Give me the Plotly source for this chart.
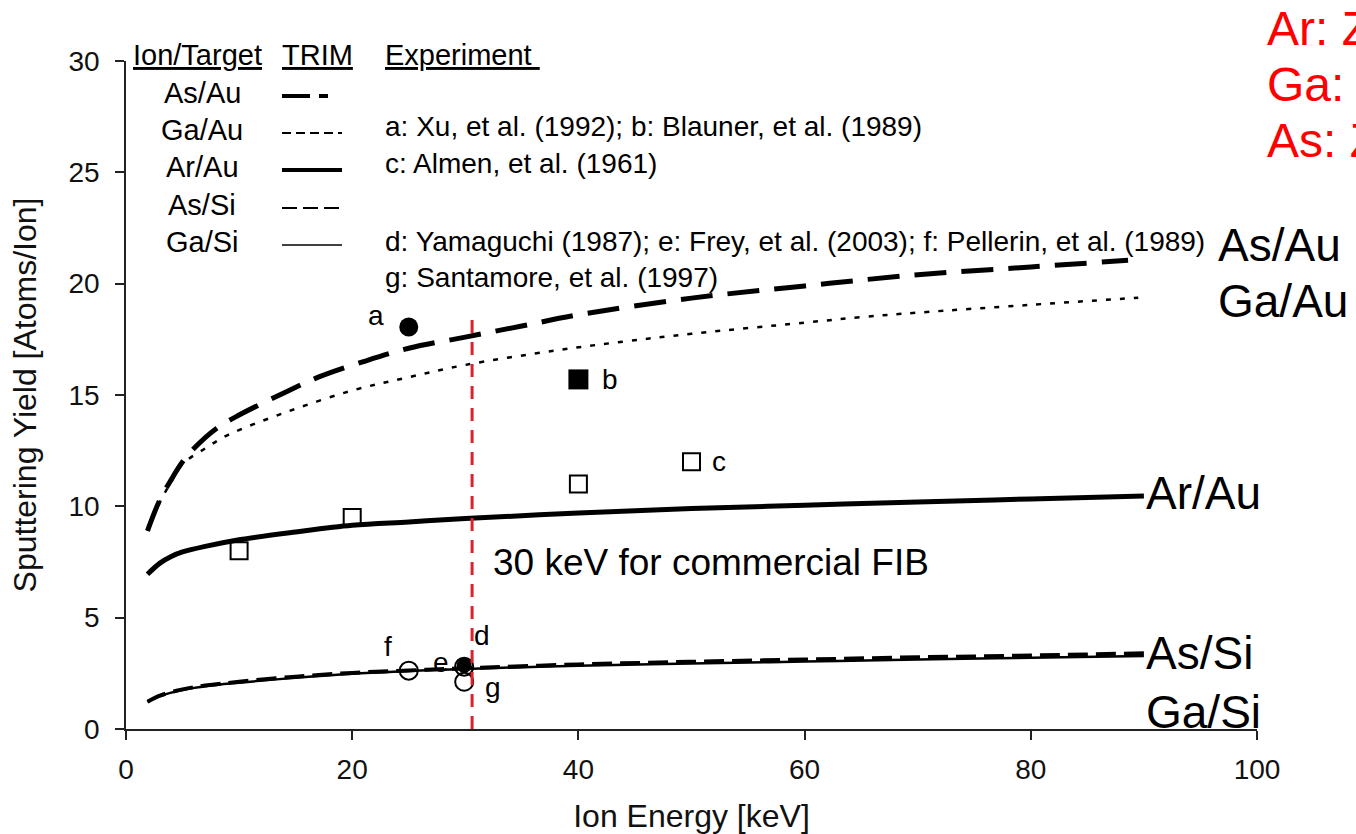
import plotly.graph_objects as go

# ---------------- data ----------------
energy_as_au = [1.9, 3, 4, 5, 6, 8, 10, 14, 17, 21, 25, 30, 35, 40, 50, 60, 70, 80, 88.6]
yield_as_au = [8.9, 10.3, 11.2, 12.0, 12.6, 13.5, 14.1, 15.1, 15.8, 16.5, 17.1, 17.6, 18.1, 18.6, 19.35, 19.9, 20.4, 20.75, 21.05]

energy_ga_au = [1.9, 3, 4, 5, 7, 9, 14, 20, 25, 30, 38, 44, 50, 60, 65, 70, 80, 89.5]
yield_ga_au = [8.9, 10.2, 11.1, 11.9, 12.6, 13.2, 14.2, 15.2, 15.8, 16.35, 17.0, 17.4, 17.75, 18.25, 18.5, 18.7, 19.05, 19.37]

energy_ar_au = [1.9, 3, 4, 5, 7, 10, 15, 20, 25, 30, 40, 50, 60, 70, 80, 90]
yield_ar_au = [6.95, 7.45, 7.75, 7.95, 8.2, 8.5, 8.85, 9.15, 9.3, 9.45, 9.7, 9.9, 10.05, 10.2, 10.33, 10.46]

energy_si = [1.9, 3, 5, 7, 10, 15, 20, 25, 30, 40, 50, 60, 70, 80, 90]
yield_as_si = [1.22, 1.5, 1.78, 1.95, 2.12, 2.35, 2.52, 2.63, 2.73, 2.9, 3.02, 3.12, 3.22, 3.3, 3.4]
yield_ga_si = [1.22, 1.48, 1.75, 1.92, 2.08, 2.3, 2.48, 2.6, 2.7, 2.84, 2.94, 3.03, 3.12, 3.2, 3.28]

exp_a_x, exp_a_y = [25], [18.05]
exp_b_x, exp_b_y = [40], [15.7]
exp_c_x, exp_c_y = [10, 20, 40, 50], [8.0, 9.5, 11.0, 12.0]
exp_d_x, exp_d_y = [29.9], [2.85]
exp_e_x, exp_e_y = [29.9], [2.8]
exp_f_x, exp_f_y = [25], [2.62]
exp_g_x, exp_g_y = [29.9], [2.12]

fib_energy = 30.6
fib_line_top = 18.4

x_ticks = [0, 20, 40, 60, 80, 100]
y_ticks = [0, 5, 10, 15, 20, 25, 30]

legend_names = ["As/Au", "Ga/Au", "Ar/Au", "As/Si", "Ga/Si"]
references = [
    "a: Xu, et al. (1992); b: Blauner, et al. (1989)",
    "c: Almen, et al. (1961)",
    "d: Yamaguchi (1987); e: Frey, et al. (2003); f: Pellerin, et al. (1989)",
    "g: Santamore, et al. (1997)",
]
red_notes = ["Ar: Z=18", "Ga: Z=31", "As: Z=33"]

# ---------------- layout geometry ----------------
W, H = 1356, 834
ML, MR, MT, MB = 126, 99, 61, 105
XMAX, YMAX = 100, 30
FONT = "Liberation Sans, Arial, Helvetica, sans-serif"


def px_(px):
    return (px - ML) / (W - ML - MR)


def py_(py):
    return (H - MB - py) / (H - MB - MT)


fig = go.Figure()

# TRIM curves
fig.add_trace(go.Scatter(x=energy_as_au, y=yield_as_au, mode="lines",
                         line=dict(color="black", width=5, dash="32px,15px", shape="spline"),
                         showlegend=False))
fig.add_trace(go.Scatter(x=energy_ga_au, y=yield_ga_au, mode="lines",
                         line=dict(color="black", width=2.5, dash="5px,9px", shape="spline"),
                         showlegend=False))
fig.add_trace(go.Scatter(x=energy_ar_au, y=yield_ar_au, mode="lines",
                         line=dict(color="black", width=5, shape="spline"),
                         showlegend=False))
fig.add_trace(go.Scatter(x=energy_si, y=yield_ga_si, mode="lines",
                         line=dict(color="black", width=2.5, shape="spline"),
                         showlegend=False))
fig.add_trace(go.Scatter(x=energy_si, y=yield_as_si, mode="lines",
                         line=dict(color="black", width=4, dash="20px,8px", shape="spline"),
                         showlegend=False))

# experiments
open_sq = dict(symbol="square-open", size=17, color="black", line=dict(width=2, color="black"))
open_ci = dict(symbol="circle-open", size=18, color="black", line=dict(width=2, color="black"))
fig.add_trace(go.Scatter(x=exp_c_x, y=exp_c_y, mode="markers", marker=open_sq, showlegend=False))
fig.add_trace(go.Scatter(x=exp_a_x, y=exp_a_y, mode="markers",
                         marker=dict(symbol="circle", size=19, color="black"), showlegend=False))
fig.add_trace(go.Scatter(x=exp_b_x, y=exp_b_y, mode="markers",
                         marker=dict(symbol="square", size=20, color="black"), showlegend=False))
fig.add_trace(go.Scatter(x=exp_f_x, y=exp_f_y, mode="markers", marker=open_ci, showlegend=False))
fig.add_trace(go.Scatter(x=exp_g_x, y=exp_g_y, mode="markers", marker=open_ci, showlegend=False))
fig.add_trace(go.Scatter(x=exp_e_x, y=exp_e_y, mode="markers", marker=open_ci, showlegend=False))
fig.add_trace(go.Scatter(x=exp_d_x, y=exp_d_y, mode="markers",
                         marker=dict(symbol="circle", size=15, color="black"), showlegend=False))

# 30 keV line
fig.add_shape(type="line", xref="x", yref="y", x0=fib_energy, x1=fib_energy, y0=0, y1=fib_line_top,
              line=dict(color="#d9232e", width=3, dash="13px,9px"), layer="above")

annotations = []


def txt(px, py, text, size, xanchor="left", color="black"):
    annotations.append(dict(x=px_(px), y=py_(py), xref="paper", yref="paper", text=text,
                            showarrow=False, xanchor=xanchor, yanchor="middle",
                            font=dict(family=FONT, size=size, color=color)))


# header
txt(131, 55, "<u>Ion/Target</u>", 29)
txt(280, 55, "<u>TRIM</u>", 29)
txt(383, 55, "<u>Experiment </u>", 29)

# legend rows
row_py = [93, 130, 167, 205, 242]
legend_styles = [
    dict(width=4, dash="28px,9px,9px,100px"),
    dict(width=2, dash="9px,5px"),
    dict(width=4),
    dict(width=2, dash="15px,6px"),
    dict(width=1.5),
]
for name, py, st in zip(legend_names, row_py, legend_styles):
    txt(202, py, name, 29, xanchor="center")
    fig.add_shape(type="line", xref="paper", yref="paper", x0=px_(282), x1=px_(342),
                  y0=py_(py + 3), y1=py_(py + 3), line=dict(color="black", **st))

# references
for text, py in zip(references, [127, 163, 241, 277]):
    txt(383, py, text, 28)

# curve labels
txt(1216, 245, "As/Au", 46)
txt(1216, 301, "Ga/Au", 46)
txt(1144, 493, "Ar/Au", 46)
txt(1144, 653, "As/Si", 46)
txt(1144, 712, "Ga/Si", 46)

# red notes (cropped at the right edge, as in the original figure)
for text, py in zip(red_notes, [28, 85, 141]):
    txt(1265, py, text, 48, color="#ff0000")

# FIB note
txt(491, 562, "30 keV for commercial FIB", 37)


# experiment point labels (anchored to the data point, shifted in pixels)
def plabel(x, y, t, xs, ys):
    annotations.append(dict(x=x, y=y, xref="x", yref="y", text=t, showarrow=False,
                            xanchor="center", yanchor="middle", xshift=xs, yshift=ys,
                            font=dict(family=FONT, size=28, color="black")))


plabel(exp_a_x[0], exp_a_y[0], "a", -33, 12)
plabel(exp_b_x[0], exp_b_y[0], "b", 32, 0)
plabel(exp_c_x[-1], exp_c_y[-1], "c", 27, 0)
plabel(exp_d_x[0], exp_d_y[0], "d", 18, 30)
plabel(exp_e_x[0], exp_e_y[0], "e", -23, 4)
plabel(exp_f_x[0], exp_f_y[0], "f", -21, 24)
plabel(exp_g_x[0], exp_g_y[0], "g", 29, -6)

fig.update_layout(
    width=W, height=H,
    margin=dict(l=ML, r=MR, t=MT, b=MB, pad=0, autoexpand=False),
    paper_bgcolor="white", plot_bgcolor="white",
    font=dict(family=FONT, size=27, color="#111"),
    annotations=annotations,
    showlegend=False,
)
fig.update_xaxes(range=[0, XMAX], tickvals=x_ticks, ticks="outside", ticklen=9, tickwidth=1.5,
                 tickcolor="#222", showline=True, linecolor="#222", linewidth=1.5,
                 showgrid=False, zeroline=False, ticklabelstandoff=6, automargin=False,
                 tickfont=dict(size=28, color="#111"),
                 title=dict(text="Ion Energy [keV]", font=dict(size=32, color="#111"), standoff=22))
fig.update_yaxes(range=[0, YMAX], tickvals=y_ticks, ticks="outside", ticklen=9, tickwidth=1.5,
                 tickcolor="#222", showline=True, linecolor="#222", linewidth=1.5,
                 showgrid=False, zeroline=False, ticklabelstandoff=10, automargin=False,
                 tickfont=dict(size=28, color="#111"),
                 title=dict(text="Sputtering Yield [Atoms/Ion]", font=dict(size=32, color="#111"), standoff=22))

fig.write_html("out.html")
